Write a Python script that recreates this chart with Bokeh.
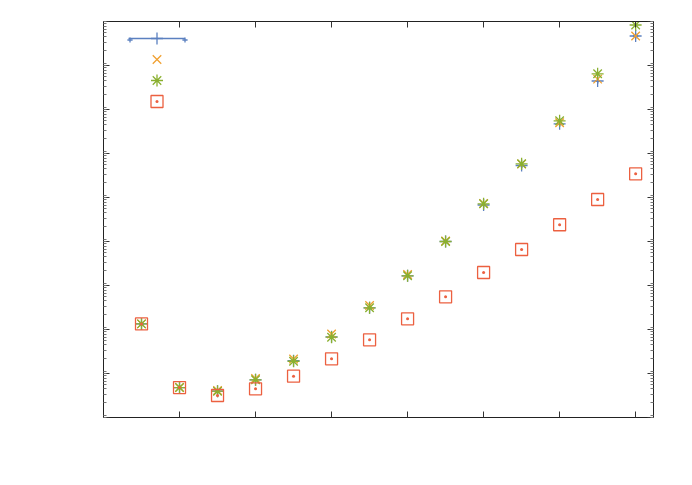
import numpy as np
from bokeh.plotting import figure
from bokeh.models import (Range1d, LogAxis, LinearAxis, LogTicker, SingleIntervalTicker,
                          CustomJSTickFormatter, Legend, LegendItem, ColumnDataSource)
from bokeh.core.properties import value
from bokeh.embed import file_html
from bokeh.resources import INLINE

# ---- data ----
x = [1, 2, 3, 4, 5, 6, 7, 8, 9, 10, 11, 12, 13, 14]
x_err = [0] * 14
blue = [134, 4.8, 3.96, 7.2, 19.5, 68, 311, 1660, 10000, 67600, 533000, 4.73e6, 4.44e7, 4.68e8]
orange = [134, 4.8, 4.1, 7.7, 21.3, 79, 351, 1780, 10240, 73100, 576000, 5.0e6, 4.9e7, 4.68e8]
green = [134, 4.8, 3.96, 7.2, 19, 66.8, 311, 1660, 10000, 71900, 583000, 5.53e6, 6.48e7, 8.32e8]
red = [134, 4.8, 3.16, 4.49, 8.7, 21.6, 58.3, 175, 553, 1975, 6580, 24000, 90100, 346000]

C_BLUE = "#5b80c0"
C_ORANGE = "#f0a030"
C_GREEN = "#8ab030"
C_RED = "#ec6040"

src = ColumnDataSource(dict(
    x=x, x0=[a - e for a, e in zip(x, x_err)], x1=[a + e for a, e in zip(x, x_err)],
    blue=blue, orange=orange, green=green, red=red))

p = figure(width=676, height=469, output_backend="svg", toolbar_location=None,
           y_axis_type="log",
           x_range=Range1d(0, 14.47), y_range=Range1d(1, 1e9),
           min_border_left=103, min_border_right=23, min_border_top=21, min_border_bottom=52)
p.xgrid.visible = False
p.ygrid.visible = False
p.outline_line_color = "#222222"
p.outline_line_width = 1
p.background_fill_color = "white"
p.border_fill_color = "white"

empty = CustomJSTickFormatter(code="return ''")
xt = SingleIntervalTicker(interval=2, num_minor_ticks=0)
yt = LogTicker(desired_num_ticks=10, num_minor_ticks=9)


def style(ax, minor=True):
    ax.formatter = empty
    ax.major_tick_in = 6
    ax.major_tick_out = 0
    ax.minor_tick_in = 3
    ax.minor_tick_out = 0
    ax.axis_line_color = "#222222"
    ax.major_tick_line_color = "#333333"
    ax.minor_tick_line_color = "#777777" if minor else None
    ax.major_label_text_font_size = "1px"
    ax.major_label_standoff = 0


p.xaxis.ticker = xt
p.yaxis.ticker = yt
style(p.xaxis[0], minor=False)
style(p.yaxis[0])
top = LinearAxis(ticker=xt)
style(top, minor=False)
right = LogAxis(ticker=yt)
style(right)
p.add_layout(top, "above")
p.add_layout(right, "right")

# blue: points with x error bars (zero width in the data)
seg = p.segment(x0="x0", y0="blue", x1="x1", y1="blue", source=src,
                line_color=C_BLUE, line_width=1.3)
cap0 = p.scatter("x0", "blue", source=src, marker="cross", size=5,
                 line_color=C_BLUE, line_width=1.3)
cap1 = p.scatter("x1", "blue", source=src, marker="cross", size=5,
                 line_color=C_BLUE, line_width=1.3)
rb = p.scatter("x", "blue", source=src, marker="cross", size=12,
               line_color=C_BLUE, line_width=1.3)
ro = p.scatter("x", "orange", source=src, marker="x", size=12,
               line_color=C_ORANGE, line_width=1.3)
rg = p.scatter("x", "green", source=src, marker="asterisk", size=12,
               line_color=C_GREEN, line_width=1.3)
rr = p.scatter("x", "red", source=src, marker="square_dot", size=12,
               line_color=C_RED, fill_color=None, line_width=1.3)


def key(rends, xo, yo, gw, gh):
    lg = Legend(items=[LegendItem(label=value(""), renderers=rends)],
                location=(xo, yo), glyph_width=gw, glyph_height=gh, spacing=0,
                padding=0, margin=0, label_standoff=0, label_height=0, label_width=0,
                border_line_color=None, background_fill_alpha=0)
    p.add_layout(lg, "center")


# key rows (one legend per row so rows sit closer than the glyph height)
key([seg, rb], 25, 364, 57, 30)
key([cap0], 19.5, 371.5, 13, 13)
key([cap1], 74.5, 371.5, 13, 13)
key([ro], 25, 343, 57, 30)
key([rg], 25, 322, 57, 30)
key([rr], 25, 301, 57, 30)

open("out.html", "w").write(file_html(p, INLINE))
